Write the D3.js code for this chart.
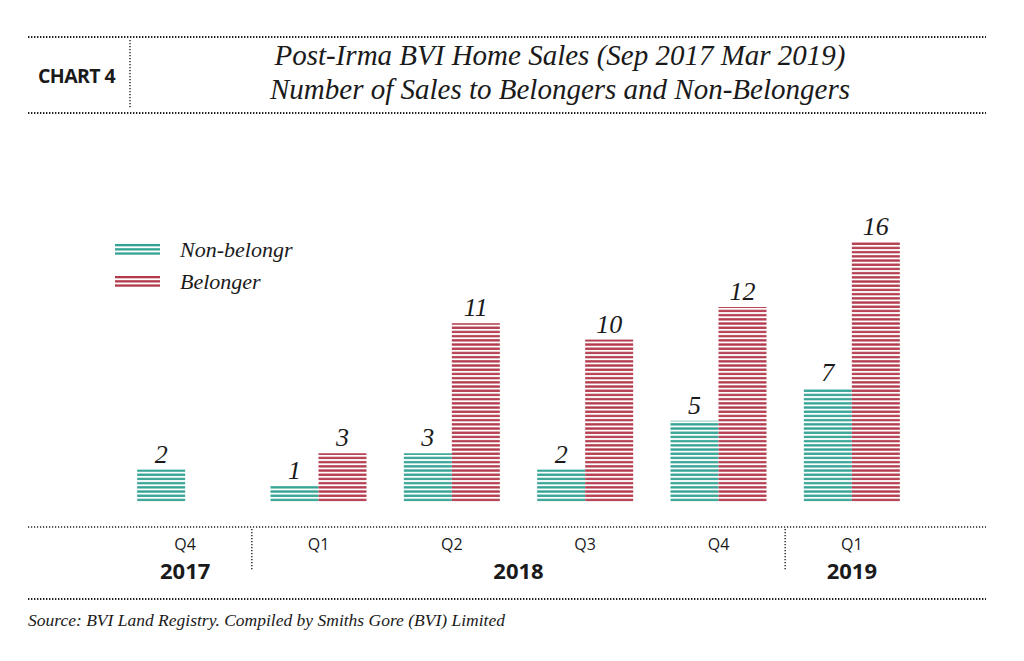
<!DOCTYPE html>
<html lang="en">
<head>
<meta charset="UTF-8">
<title>Post-Irma BVI Home Sales</title>
<script src="https://d3js.org/d3.v7.min.js"></script>
<style>
  body { margin: 0; background: #fff; }
  .serif { font-family: "Liberation Serif", "DejaVu Serif", serif; font-style: italic; fill: #1a1a1a; }
  .sans { font-family: "Open Sans", "Noto Sans", sans-serif; fill: #1a1a1a; }
</style>
</head>
<body>
<script>
// data
const quarters = ["Q4", "Q1", "Q2", "Q3", "Q4", "Q1"];
const years = ["2017", "2018", "2018", "2018", "2018", "2019"];
const nonBelonger = [2, 1, 3, 2, 5, 7];
const belonger = [null, 3, 11, 10, 12, 16];
const seriesNames = ["Non-belongr", "Belonger"];
const colors = ["#34a395", "#b33a4c"];

const w = 1024, h = 661;
const baseline = 502;
const keys = quarters.map((q, i) => years[i] + q);

const svg = d3.select("body").append("svg")
  .attr("width", w).attr("height", h);

// striped fills
const defs = svg.append("defs");
colors.forEach((c, i) => {
  const p = defs.append("pattern")
    .attr("id", "stripe" + i)
    .attr("patternUnits", "userSpaceOnUse")
    .attr("width", 8).attr("height", 4.2)
    .attr("y", baseline);
  p.append("rect").attr("width", 8).attr("height", 4.2).attr("fill", "#fff");
  p.append("rect").attr("y", 1).attr("width", 8).attr("height", 2.3).attr("fill", c);
});

const x = d3.scaleBand().domain(keys).range([118.5, 918.5]).paddingInner(0.28).paddingOuter(0.14);
const bw = x.bandwidth() / 2;
const y = d3.scaleLinear().domain([0, 16]).range([baseline, 242]);

// dotted rules
function rule(x1, x2, yy, thick) {
  svg.append("line")
    .attr("x1", x1).attr("x2", x2).attr("y1", yy).attr("y2", yy)
    .attr("stroke", "#222")
    .attr("stroke-width", thick ? 2 : 1.4)
    .attr("stroke-dasharray", thick ? "1.4 1.6" : "1.2 1.8");
}
rule(28, 986, 37, true);
rule(28, 986, 113, true);
rule(28, 986, 527, false);
rule(28, 986, 599, true);

svg.append("line")
  .attr("x1", 130).attr("x2", 130).attr("y1", 40).attr("y2", 108)
  .attr("stroke", "#222").attr("stroke-width", 1.4).attr("stroke-dasharray", "1.2 1.8");

// header
svg.append("text").attr("class", "sans")
  .attr("x", 38).attr("y", 83)
  .attr("font-size", 19.5).attr("font-weight", 700)
  .attr("letter-spacing", -0.6)
  .text("CHART 4");

svg.append("text").attr("class", "serif")
  .attr("x", 560).attr("y", 65).attr("text-anchor", "middle")
  .attr("font-size", 29)
  .text("Post-Irma BVI Home Sales (Sep 2017 Mar 2019)");
svg.append("text").attr("class", "serif")
  .attr("x", 560).attr("y", 99).attr("text-anchor", "middle")
  .attr("font-size", 29)
  .text("Number of Sales to Belongers and Non-Belongers");

// bars
const series = [nonBelonger, belonger];
series.forEach((vals, s) => {
  const g = svg.append("g");
  const data = vals.map((v, i) => ({ k: keys[i], v: v })).filter(d => d.v != null);
  g.selectAll("rect").data(data).enter().append("rect")
    .attr("x", d => x(d.k) + s * bw)
    .attr("y", d => y(d.v))
    .attr("width", bw)
    .attr("height", d => baseline - y(d.v))
    .attr("fill", "url(#stripe" + s + ")");
  g.selectAll("text").data(data).enter().append("text")
    .attr("class", "serif")
    .attr("x", d => x(d.k) + s * bw + bw / 2)
    .attr("y", d => y(d.v) - 7)
    .attr("text-anchor", "middle")
    .attr("font-size", 26)
    .text(d => d.v);
});

// x axis labels
svg.append("g").selectAll("text").data(keys).enter().append("text")
  .attr("class", "sans")
  .attr("x", d => x(d) + x.bandwidth() / 2)
  .attr("y", 550)
  .attr("text-anchor", "middle")
  .attr("font-size", 16)
  .text((d, i) => quarters[i]);

const yearGroups = d3.groups(keys.map((k, i) => ({ k: k, yr: years[i] })), d => d.yr);
yearGroups.forEach(([yr, items]) => {
  const cx = d3.mean(items, d => x(d.k) + x.bandwidth() / 2);
  svg.append("text").attr("class", "sans")
    .attr("x", cx).attr("y", 579)
    .attr("text-anchor", "middle")
    .attr("font-size", 22).attr("font-weight", 700)
    .text(yr);
});

// year separators
const step = x.step();
[keys[1], keys[5]].forEach(k => {
  const sx = x(k) - (step - x.bandwidth()) / 2;
  svg.append("line")
    .attr("x1", sx).attr("x2", sx).attr("y1", 529).attr("y2", 570)
    .attr("stroke", "#222").attr("stroke-width", 1.4).attr("stroke-dasharray", "1.2 1.8");
});

// legend
seriesNames.forEach((name, i) => {
  const ly = 243 + i * 32;
  const lg = svg.append("g");
  [0, 1, 2].forEach(j => {
    lg.append("rect")
      .attr("x", 115).attr("y", ly + j * 4.2 + 1)
      .attr("width", 45).attr("height", 2.3)
      .attr("fill", colors[i]);
  });
  lg.append("text").attr("class", "serif")
    .attr("x", 180).attr("y", ly + 14)
    .attr("font-size", 22)
    .text(name);
});

// source
svg.append("text").attr("class", "serif")
  .attr("x", 28).attr("y", 626)
  .attr("font-size", 17.5)
  .text("Source: BVI Land Registry. Compiled by Smiths Gore (BVI) Limited");
</script>
</body>
</html>
